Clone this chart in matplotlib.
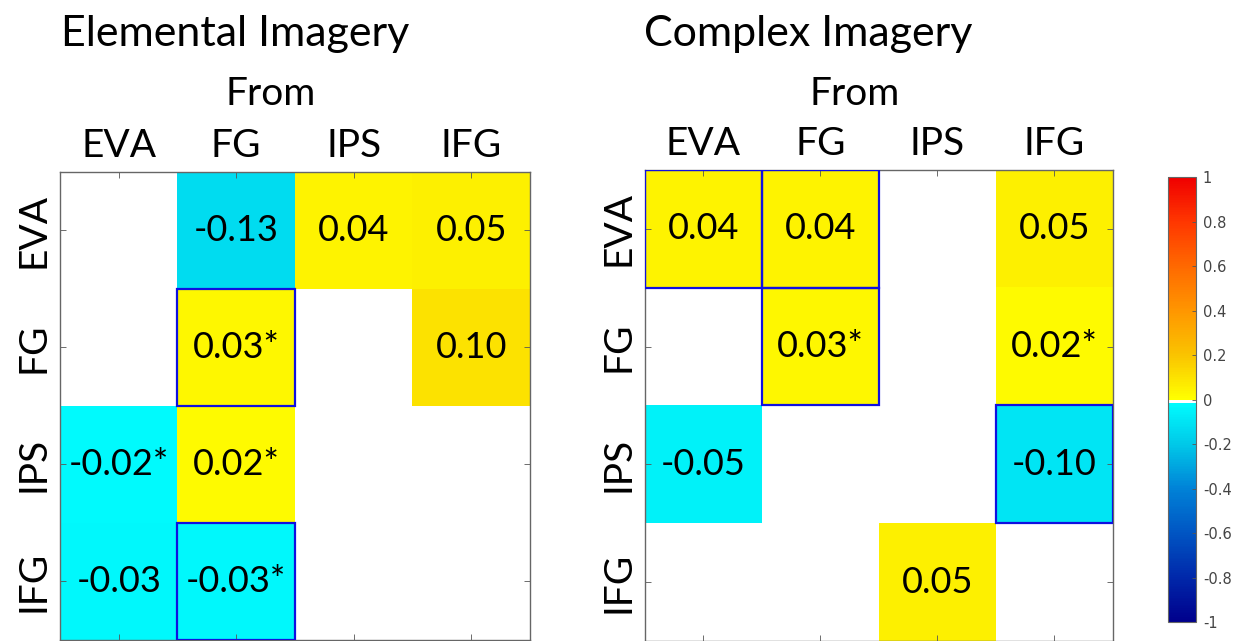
import matplotlib
matplotlib.use('Agg')
import matplotlib.pyplot as plt
import numpy as np
from matplotlib.colors import ListedColormap, Normalize
from matplotlib.patches import Rectangle
from matplotlib.ticker import FormatStrFormatter

regions = ['EVA', 'FG', 'IPS', 'IFG']

# rows = to, cols = from; nan = no connection
elemental = [[np.nan, -0.13, 0.04, 0.05],
             [np.nan, 0.03, np.nan, 0.10],
             [-0.02, 0.02, np.nan, np.nan],
             [-0.03, -0.03, np.nan, np.nan]]
elemental_sig = [[0, 0, 0, 0],
                 [0, 1, 0, 0],
                 [1, 1, 0, 0],
                 [0, 1, 0, 0]]
elemental_boxes = [(1, 1), (3, 1)]

complex_ = [[0.04, 0.04, np.nan, 0.05],
            [np.nan, 0.03, np.nan, 0.02],
            [-0.05, np.nan, np.nan, -0.10],
            [np.nan, np.nan, 0.05, np.nan]]
complex_sig = [[0, 0, 0, 0],
               [0, 1, 0, 1],
               [0, 0, 0, 0],
               [0, 0, 0, 0]]
complex_boxes = [(0, 0), (0, 1), (1, 1), (2, 3)]

cbar_ticks = [-1, -0.8, -0.6, -0.4, -0.2, 0, 0.2, 0.4, 0.6, 0.8, 1]

FONT = 'Lato'


def make_cmap():
    neg_x = [0, 0.2, 0.4, 0.6, 0.8, 1.0]  # from -1 to 0
    neg_c = np.array([[0, 0, 140], [0, 40, 170], [0, 85, 195],
                      [0, 130, 215], [0, 200, 232], [0, 255, 255]]) / 255
    pos_x = [0, 0.2, 0.4, 0.6, 0.8, 1.0]  # from 0 to 1
    pos_c = np.array([[255, 255, 0], [250, 195, 0], [255, 150, 0],
                      [255, 105, 0], [255, 55, 0], [240, 0, 0]]) / 255
    n = 128
    t = np.linspace(0, 1, n)
    neg = np.column_stack([np.interp(t, neg_x, neg_c[:, k]) for k in range(3)])
    pos = np.column_stack([np.interp(t, pos_x, pos_c[:, k]) for k in range(3)])
    cols = np.vstack([neg, pos])
    cols[n - 2:n] = 1.0
    cm = ListedColormap(cols)
    cm.set_bad('white')
    return cm


def panel(ax, data, sig, boxes, cmap, norm):
    data = np.array(data, dtype=float)
    ax.imshow(np.ma.masked_invalid(data), cmap=cmap, norm=norm, aspect='auto',
              interpolation='nearest')
    for i in range(4):
        for j in range(4):
            v = data[i, j]
            if np.isnan(v):
                continue
            s = '%.2f' % v + ('*' if sig[i][j] else '')
            ax.text(j, i, s, ha='center', va='center', fontsize=26,
                    family=FONT, color='black')
    for (i, j) in boxes:
        ax.add_patch(Rectangle((j - 0.5, i - 0.5), 1, 1, fill=False,
                               edgecolor='#1010e0', lw=1.6, zorder=5))
    ax.set_xticks(range(4))
    ax.set_yticks(range(4))
    ax.xaxis.tick_top()
    ax.set_xticklabels(regions, fontsize=28, family=FONT)
    ax.set_yticklabels(regions, fontsize=28, family=FONT, rotation=90,
                       va='center')
    ax.tick_params(direction='in', length=4, width=0.6, color='#555555',
                   top=True, bottom=True, left=True, right=True,
                   labeltop=True, labelbottom=False, pad=6)
    for sp in ax.spines.values():
        sp.set_color('#666666')
        sp.set_linewidth(1.0)
    ax.set_xlim(-0.5, 3.5)
    ax.set_ylim(3.5, -0.5)


fig = plt.figure(figsize=(12.42, 6.41), dpi=100)
cmap = make_cmap()
norm = Normalize(vmin=-1, vmax=1)

ax1 = fig.add_axes([0.0483, 0.0016, 0.3784, 0.7301])
panel(ax1, elemental, elemental_sig, elemental_boxes, cmap, norm)
ax2 = fig.add_axes([0.5193, 0.0, 0.3768, 0.7348])
panel(ax2, complex_, complex_sig, complex_boxes, cmap, norm)

fig.text(61 / 1242, 1 - 46 / 641, 'Elemental Imagery', fontsize=31,
         family=FONT, va='baseline', ha='left')
fig.text(644 / 1242, 1 - 46 / 641, 'Complex Imagery', fontsize=31,
         family=FONT, va='baseline', ha='left')
fig.text(271 / 1242, 1 - 105 / 641, 'From', fontsize=28, family=FONT,
         va='baseline', ha='center')
fig.text(855 / 1242, 1 - 105 / 641, 'From', fontsize=28, family=FONT,
         va='baseline', ha='center')

cax = fig.add_axes([0.9404, 0.0296, 0.0225, 0.694])
sm = plt.cm.ScalarMappable(cmap=cmap, norm=norm)
cb = fig.colorbar(sm, cax=cax, ticks=cbar_ticks)
cb.ax.yaxis.set_major_formatter(FormatStrFormatter('%g'))
cb.ax.tick_params(direction='in', length=3, width=0.6, color='#555555',
                  labelsize=10.5, labelcolor='#444444', pad=5)
cb.outline.set_edgecolor('#666666')
cb.outline.set_linewidth(0.8)

fig.savefig('out.png', dpi=100)
